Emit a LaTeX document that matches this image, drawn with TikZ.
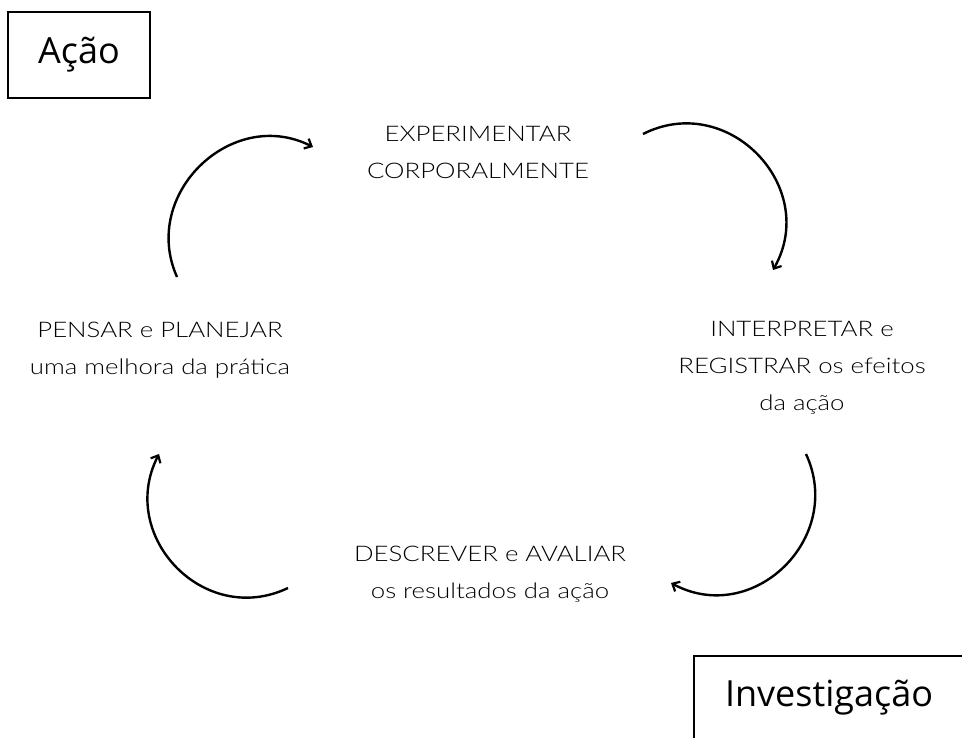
\documentclass[tikz,border=0pt]{standalone}
\usepackage{fontspec}
\setmainfont{Lato Light}[FakeStretch=1.2]
\newfontfamily\boxfont{Open Sans}
\usetikzlibrary{arrows.meta}

\tikzset{
  stage/.style={font=\fontsize{21.5}{37}\selectfont, align=center, inner sep=0pt, text=black},
  titlebox/.style={draw, line width=1.6pt, font=\boxfont\fontsize{36}{40}\selectfont, inner sep=0pt},
  cycle/.style={line width=2.4pt, -{Straight Barb[length=6pt,width=11pt,line width=2.2pt]}}
}

\begin{document}
\begin{tikzpicture}[x=1pt, y=-1pt]
  \useasboundingbox (0,0) rectangle (962,738);
  \clip (0,0) rectangle (962,738);

  % title boxes
  \node[titlebox, minimum width=142pt, minimum height=86pt] (acao) at (79,55) {Ação};
  \node[titlebox, minimum width=270pt, minimum height=84pt] (invest) at (829,698) {Investigação};

  % the four stages of the cycle
  \node[stage] (exp) at (478,152) {EXPERIMENTAR\\CORPORALMENTE};
  \node[stage] (reg) at (802,368) {INTERPRETAR e\\REGISTRAR os efeitos\\da ação};
  \node[stage] (desc) at (490,574) {DESCREVER e AVALIAR\\os resultados da ação};
  \node[stage] (pens) at (160,350) {PENSAR e PLANEJAR\\uma melhora da prática};

  % end points of the curved arrows
  \coordinate (a1s) at (177,277); \coordinate (a1e) at (313,147);
  \coordinate (a2s) at (643,134); \coordinate (a2e) at (773,270);
  \coordinate (a3s) at (806,454); \coordinate (a3e) at (671,583);
  \coordinate (a4s) at (288,588); \coordinate (a4e) at (159,454);

  \draw[cycle] (a1s) .. controls (140,194) and (232,106) .. (a1e);
  \draw[cycle] (a2s) .. controls (728,91) and (820,187) .. (a2e);
  \draw[cycle] (a3s) .. controls (845,538) and (753,627) .. (a3e);
  \draw[cycle] (a4s) .. controls (204,628) and (117,536) .. (a4e);
\end{tikzpicture}
\end{document}
